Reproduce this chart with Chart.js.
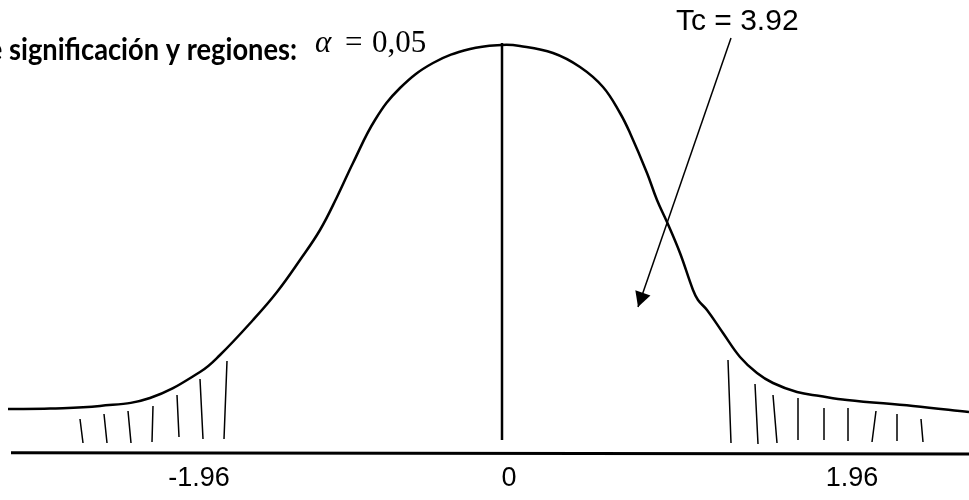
<!DOCTYPE html>
<html lang="es">
<head>
<meta charset="utf-8">
<title>Nivel de significación y regiones</title>
<script src="https://cdn.jsdelivr.net/npm/chart.js@4.4.1/dist/chart.umd.min.js"></script>
<style>
    html, body { margin: 0; padding: 0; background: #fff; }
    #wrap { width: 969px; height: 500px; position: relative; }
</style>
</head>
<body>
<div id="wrap"><canvas id="curveChart"></canvas></div>
<script>
// curva dibujada a mano (unidades del boceto: x horizontal, y altura sobre el borde inferior)
const curveX = [8, 50, 100, 150, 200, 220, 253, 277, 300, 320, 337, 353, 375, 400, 433, 470, 502, 520, 553, 580, 603, 620, 630, 647, 657, 667, 680, 693, 698, 707, 723, 740, 757, 773, 797, 820, 847, 913, 969];
const curveY = [51, 51.5, 54, 62, 88, 105, 140, 168, 200, 230, 263, 297, 340, 372, 397, 411, 415, 414, 407, 393, 373, 347, 327, 287, 260, 238, 207, 170, 160, 150, 127, 103, 87, 77, 68, 64, 60, 54, 48];

// rayas de las regiones de rechazo: [x arriba, y arriba, x abajo, y abajo]
const hatchLeft = [
    [80, 41, 83, 17], [104, 46, 107, 17], [128, 49, 131, 17], [153, 54, 152, 18],
    [177, 65, 179, 23], [200, 81, 203, 21], [227, 99, 224, 21]
];
const hatchRight = [
    [728, 100, 731, 17], [755, 76, 758, 16], [773, 65, 777, 17], [798, 62, 798, 20],
    [824, 52, 824, 20], [848, 52, 848, 19], [876, 49, 872, 18], [897, 46, 897, 19],
    [921, 41, 923, 18]
];

const centerLine = [[502, 417], [502, 20]];
const baseLine = [[11, 7.3], [969, 6]];
const arrowLine = [[731, 422], [638, 153]];

const tickPos = [199, 509, 852];
const tickLabels = ['-1.96', '0', '1.96'];

function toPoints(pairs) {
    return pairs.map(p => ({ x: p[0], y: p[1] }));
}

function hatchPoints(list) {
    const pts = [];
    list.forEach(h => {
        pts.push({ x: h[0], y: h[1] });
        pts.push({ x: h[2], y: h[3] });
        pts.push({ x: h[2], y: null });
    });
    return pts;
}

const lineDefaults = { showLine: true, pointRadius: 0, borderColor: '#000', fill: false, spanGaps: false };

// textos y punta de flecha
const sketchText = {
    id: 'sketchText',
    afterDatasetsDraw(chart) {
        const ctx = chart.ctx;
        const sx = chart.scales.x, sy = chart.scales.y;
        ctx.save();
        ctx.fillStyle = '#000';

        // punta de flecha
        const x1 = sx.getPixelForValue(arrowLine[0][0]), y1 = sy.getPixelForValue(arrowLine[0][1]);
        const x2 = sx.getPixelForValue(arrowLine[1][0]), y2 = sy.getPixelForValue(arrowLine[1][1]);
        const ang = Math.atan2(y2 - y1, x2 - x1);
        const len = 15, half = 8;
        ctx.beginPath();
        ctx.moveTo(x2, y2);
        ctx.lineTo(x2 - len * Math.cos(ang) + half * Math.sin(ang), y2 - len * Math.sin(ang) - half * Math.cos(ang));
        ctx.lineTo(x2 - len * Math.cos(ang) - half * Math.sin(ang), y2 - len * Math.sin(ang) + half * Math.cos(ang));
        ctx.closePath();
        ctx.fill();

        // título cortado a la izquierda, estrechado como Calibri
        ctx.textBaseline = 'alphabetic';
        ctx.font = 'bold 30px Lato';
        const k = 288 / ctx.measureText('significación y regiones:').width;
        ctx.save();
        ctx.translate(297, 60);
        ctx.scale(k, 1);
        ctx.textAlign = 'right';
        ctx.fillText('de significación y regiones:', 0, 0);
        ctx.restore();

        ctx.textAlign = 'left';
        ctx.font = 'italic 31px "Liberation Serif"';
        ctx.fillText('α', 315, 52);
        ctx.font = '31px "Liberation Serif"';
        ctx.fillText('=', 345, 52);
        ctx.fillText('0,05', 372, 52);

        ctx.font = '30px "Liberation Sans"';
        ctx.fillText('Tc = 3.92', 676, 30);
        ctx.restore();
    }
};

const ctx = document.getElementById('curveChart').getContext('2d');
const curveChart = new Chart(ctx, {
    type: 'scatter',
    data: {
        datasets: [
            {
                ...lineDefaults,
                data: curveX.map((x, i) => ({ x: x, y: curveY[i] })),
                borderWidth: 2.5,
                tension: 0.4
            },
            { ...lineDefaults, data: hatchPoints(hatchLeft), borderWidth: 1.5 },
            { ...lineDefaults, data: hatchPoints(hatchRight), borderWidth: 1.5 },
            { ...lineDefaults, data: toPoints(centerLine), borderWidth: 2.5 },
            { ...lineDefaults, data: toPoints(baseLine), borderWidth: 3 },
            { ...lineDefaults, data: toPoints(arrowLine), borderWidth: 1.5 }
        ]
    },
    options: {
        responsive: true,
        maintainAspectRatio: false,
        animation: false,
        layout: { padding: 0 },
        scales: {
            x: {
                type: 'linear',
                min: 0,
                max: 969,
                afterBuildTicks: scale => {
                    scale.ticks = tickPos.map(v => ({ value: v }));
                },
                afterFit: scale => {
                    scale.height = 40;
                },
                grid: { display: false, drawTicks: false },
                border: { display: false },
                ticks: {
                    autoSkip: false,
                    maxRotation: 0,
                    padding: 2,
                    color: '#000',
                    font: { family: '"Liberation Sans", Arial', size: 27 },
                    callback: (value, index) => tickLabels[index]
                }
            },
            y: {
                display: false,
                min: 0,
                max: 460
            }
        },
        plugins: {
            legend: { display: false },
            tooltip: { enabled: false }
        }
    },
    plugins: [sketchText]
});
</script>
</body>
</html>
